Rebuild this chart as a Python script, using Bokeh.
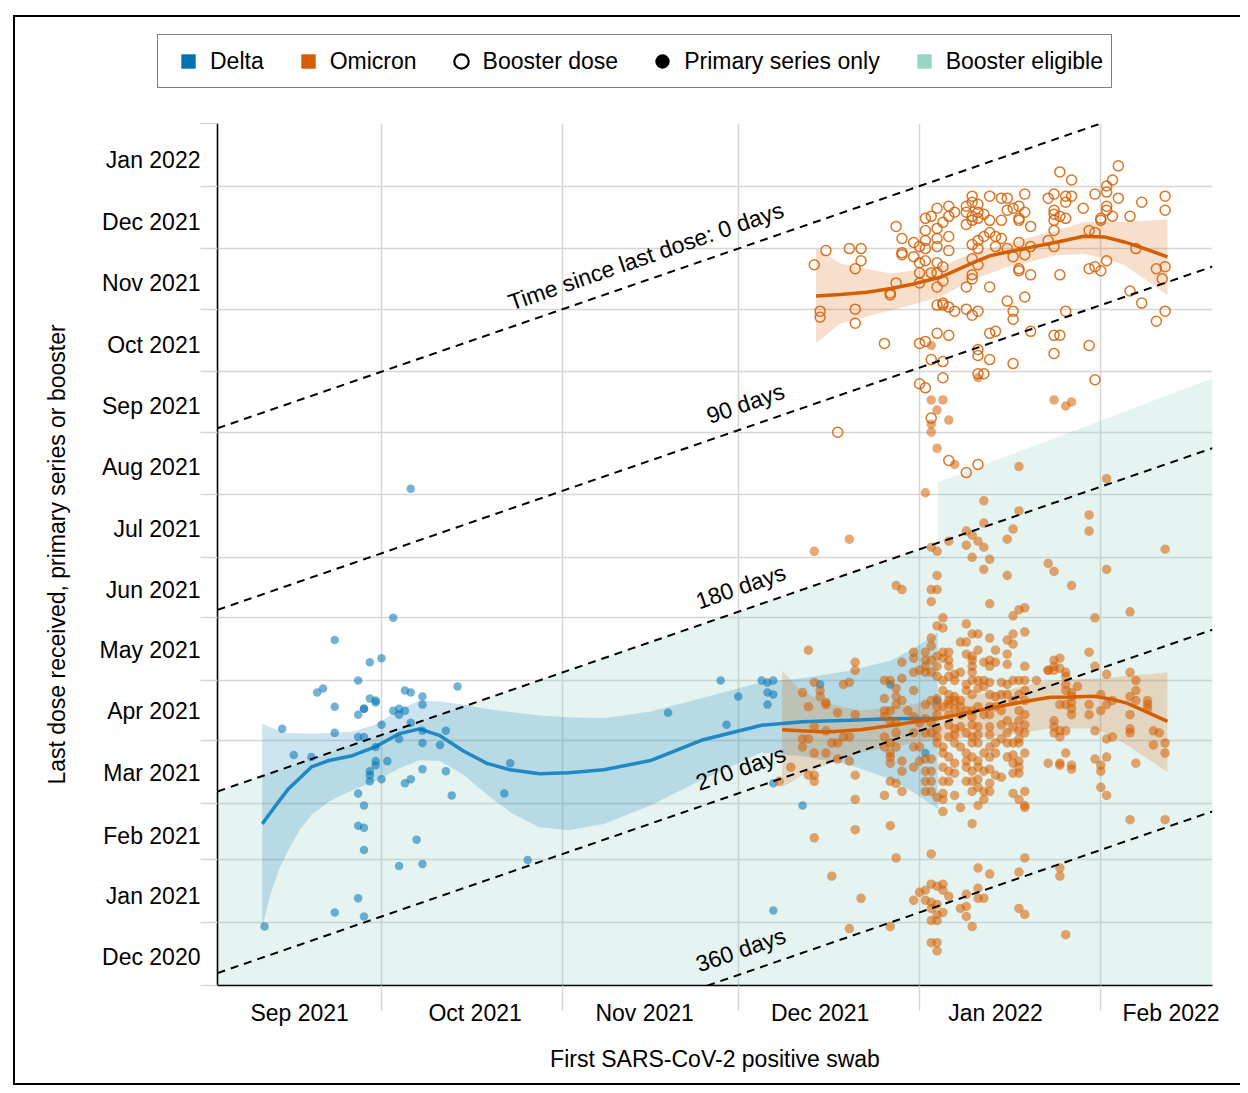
import numpy as np
from bokeh.plotting import figure
from bokeh.layouts import column
from bokeh.models import Range1d, FixedTicker, Legend, LegendItem
from bokeh.core.properties import value
from bokeh.embed import file_html
from bokeh.resources import INLINE

FONT = "Liberation Sans"
FS = "23px"
DELTA = "#0072B2"
OMI = "#D55E00"
ELIG = "#97D5C4"
GRID = "#d6d6d6"

# x = days since 2021-09-01 (first positive swab); y = days since 2021-01-01 (last dose)
SEP1 = 243
X_START, X_END = 1.95, 172.1
Y_START, Y_END = -31.2, 396

x_month_starts = [0, 30, 61, 91, 122, 153]
x_label_days = [16, 46, 75, 105, 135, 165]
x_labels = ["Sep 2021", "Oct 2021", "Nov 2021", "Dec 2021", "Jan 2022", "Feb 2022"]

y_month_starts = [-31, 0, 31, 59, 90, 120, 151, 181, 212, 243, 273, 304, 334, 365, 396]
y_label_days = [-17, 13, 43, 74, 105, 135, 165, 195, 226, 256, 286, 317, 347, 378]
y_labels = ["Dec 2020", "Jan 2021", "Feb 2021", "Mar 2021", "Apr 2021", "May 2021", "Jun 2021",
            "Jul 2021", "Aug 2021", "Sep 2021", "Oct 2021", "Nov 2021", "Dec 2021", "Jan 2022"]

# time-since-dose reference lines
ref_gap = [0, 90, 180, 270, 360]
ref_text = ["Time since last dose: 0 days", "90 days", "180 days", "270 days", "360 days"]
ref_label_x = [76.5, 93.5, 92.7, 92.7, 92.7]

# booster eligibility threshold (days since last dose) by swab date
elig_swab = [1.95, 125.2, 125.2, 172.1]
elig_gap = [180, 180, 150, 145.4]

legend_labels = ["Delta", "Omicron", "Booster dose", "Primary series only", "Booster eligible"]

# Delta, primary series (swab day, dose day)
delta_pts = [(35,215),(32,151),(22,140),(28,129),(30,131),(26,120),(19,114),(20,116),(22,107),(28,111),
    (29,109),(29,110),(27,106),(27,106),(26,103),(34,115),(35,114),(37,112),(37,108),(32,105),(33,106),
    (33,103),(34,105),(43,117),(13,96),(22,94),(26,92),(27,92),(30,98),(35,99),(33,91),(37,95),(41,95),
    (37,89),(40,88),(15,83),(18,82),(29,87),(29,80),(29,78),(31,80),(28,75),(28,73),(28,70),(30,71),
    (34,69),(35,71),(37,76),(41,75),(42,63),(52,79),(51,64),(26,64),(27,58),(26,48),(27,47),(27,36),
    (36,41),(33,28),(37,29),(55,31),(26,12),(22,5),(27,3),(10,-2),(79,104),(88,120),(89,98),(91,112),
    (95,120),(96,119),(97,120),(96,114),(97,113),(96,108),(105,118),(97,69),(102,58),(97,6),(123,84),
    (117,118),(125,110)]

# Omicron, booster dose
boost_pts = [(146,372),(156,375),(148,368),(155,368),(154,365),(154,362),(164,360),(156,359),(152,361),
    (160,357),(164,353),(154,355),(154,353),(150,354),(158,350),(155,350),(153,348),(153,349),(131,360),
    (134,360),(136,359),(137,359),(140,361),(144,359),(145,361),(147,360),(148,360),(147,357),(127,355),
    (125,354),(130,355),(132,356),(131,357),(130,352),(132,352),(128,352),(131,350),(133,351),(139,355),
    (138,354),(137,353),(140,352),(145,353),(145,351),(146,350),(147,349),(145,348),(145,343),(141,345),
    (139,349),(139,348),(136,348),(134,348),(132,349),(130,346),(131,348),(127,350),(126,347),(124,350),
    (123,349),(125,344),(123,343),(118,345),(119,339),(121,337),(123,338),(125,339),(127,340),(127,333),
    (125,335),(123,334),(122,335),(119,332),(119,331),(121,330),(123,328),(122,327),(125,327),(126,325),
    (124,322),(122,322),(125,322),(126,318),(125,315),(122,317),(118,317),(117,312),(117,311),(131,329),
    (132,334),(131,336),(132,338),(133,340),(134,342),(135,340),(136,339),(135,335),(137,334),(139,337),
    (140,331),(141,335),(138,330),(139,324),(139,323),(141,321),(146,321),(144,338),(145,335),(151,343),
    (152,342),(151,324),(152,325),(153,323),(154,328),(159,334),(162.5,324),(164,325),(163.5,319),
    (158,313),(160,307),(162.5,298),(164,303),(106,333),(110,334),(112,334),(112,328),(111,324),(104,326),
    (105,303),(105,300),(111,304),(111,297),(116,287),(130,315),(131,321),(131,319),(132,326),(134,315),
    (137,308),(138,303),(138,299),(140,310),(147,303),(130,304),(131,301),(132,303),(128,303),(127,305),
    (126,306),(125,306),(126,307),(125,292),(127,291),(134,292),(135,293),(141,293),(145,291),(146,291),
    (145,282),(151,286),(132,284),(132,281),(134,279),(138,277),(132,272),(133,272),(126,270),(126,278),
    (124,279),(122,287),(123,288),(122,267),(123,265),(152,269),(124,250),(127,229),(130,223),(132,227),
    (108,243)]

# Omicron, primary series only
prim_pts = [(124,286),(124,259),(126,259),(125,254),(127,249),(124,247),(124,243),(125,235),(128,227),
    (132,270),(139,226),(145,259),(147,256),(148,258),
    (123,213),(110,190),(104,184),(133,209),(139,204),(133,198),(130,194),(131,192),(127,189),(124,186),
    (125,184),(130,187),(132,189),(133,186),(131,181),(134,180),(133,175),(137,190),(138,195),(151,202),
    (151,194),(154,220),(164,185),(154,175),(144,178),(145,174),(148,167),(137,172),(118,167),(119,165),
    (124,165),(125,165),(125,172),(152,151),(158,154),(103,135),(111,129),(111,125),(151,134),(152,127),
    (154,123),(158,124),
    (124,159),(134,158),(140,156),(139,155),(138,152),(126,151),(125,147),(126,146),(130,148),(131,143),
    (132,143),(138,143),(140,144),(134,141),(129,139),(130,139),(137,140),(138,138),(137,133),(135,135),
    (132,135),(131,132),(130,133),(134,130),(133,129),(135,129),(131,130),(131,127),(134,127),(140,127),
    (137,128),(144,125),(126,134),(127,134),(126,131),(127,130),(125,132),(124,141),(124,137),(123,134),
    (121,134),(121,131),(119,129),(123,130),(124,130),(123,127),(122,125),(121,124),(123,124),(124,124),
    (125,127),(125,122),(127,127),(128,123),(129,124),(131,124),(127,122),(126,120),(128,120),(131,120),
    (132,120),(133,120),(130,118),(133,117),(134,119),(136,119),(137,118),(138,120),(139,120),(140,120),
    (142,120),(132,116),(130,115),(131,113),(128,112),(127,113),(126,115),(127,110),(128,110),(129,110),
    (134,113),(135,112),(136,113),(137,113),(138,110),(140,110),(139,113),(140,115),(116,120),(117,120),
    (119,121),(118,116),(121,115),(119,110),(118,112),(116,111),(118,108),(117,105),(116,105),(120,105),
    (123,108),(124,110),(125,111),(125,107),(126,107),(127,108),(128,106),(129,107),(130,105),(131,105),
    (132,107),(134,107),(135,107),(125,103),(127,103),(129,103),(131,102),(133,103),(134,103),(136,105),
    (139,105),(137,100),(139,100),(140,103),(116,102),(117,100),(118,99),(121,102),(122,99),(123,101),
    (124,99),(125,96),(127,98),(128,96),(129,97),(131,98),(132,97),(134,97),(136,98),(138,97),(140,98),
    (137,94),(139,95),(140,94),(118,94),(121,94),(123,94),(124,94),(125,92),(127,92),(128,93),(130,94),
    (131,92),(132,93),(134,93),(136,91),(139,91),(139,89),(137,89),(117,89),(118,87),(121,87),(122,87),
    (125,89),(126,87),(128,89),(129,87),(131,89),(132,89),(134,87),(135,89),(138,89),(117,84),(117,82),
    (117,79),(119,80),(122,80),(123,81),(124,81),(126,84),(127,82),(128,79),(130,84),(130,80),(131,82),
    (132,80),(133,84),(134,82),(135,84),(137,82),(138,83),(139,80),(140,84),(138,79),(119,75),(121,77),
    (123,75),(124,75),(126,77),(127,75),(128,74),(130,77),(131,75),(132,77),(133,75),(134,76),(139,77),
    (139,74),(144,79),(117,70),(118,69),(123,70),(124,70),(126,70),(127,70),(130,70),(131,70),(132,71),
    (134,69),(135,73),(136,72),(138,74),(116,63),(119,65),(123,65),(124,65),(126,64),(128,63),(131,65),
    (132,67),(133,65),(134,65),(138,64),(140,65),(139,61),(126,61),
    (104,119),(102,114),(105,112),(106,109),(110,119),(109,118),(103,107),(108,104),(111,103),(104,97),
    (106,95),(102,91),(103,91),(102,87),(104,84),(106,84),(107,89),(108,89),(109,92),(110,92),(108,81),
    (110,80),(103,73),(104,73),(100,77),(98,70),(111,73),(111,61),(106,108),(105,115),
    (126,55),(129,57),(131,49),(132,58),(133,61),(140,58),(140,57),(125,62),(111,46),(117,48),(104,42),
    (118,32),(107,23),(112,12),(110,-3),(117,-2),(124,34),(122,15),(123,16),(124,19),(125,18),(126,19),
    (126,16),(127,13),(121,11),(123,11),(124,10),(125,9),(124,7),(125,4),(126,5),(124,1),(125,1),(129,7),
    (130,8),(130,3),(131,-2),(132,27),(132,17),(133,12),(132,12),(130,14),(134,24),(139,25),(140,32),
    (139,7),(140,4),(146,27),(146,23),(147,-6),(124,-10),(125,-10),(125,-14),(158,51),(164,51),(116,92),
    (116,87),(104,70),
    (147,124),(147,122),(147,118),(147,115),(149,117),(148,114),(146,126),(159,120),(159,115),(158,112),
    (159,110),(148,112),(148,109),(148,106),(148,103),(147,108),(146,108),(151,108),(151,103),(153,113),
    (153,105),(154,108),(155,110),(158,103),(158,96),(158,94),(161,110),(161,108),(161,106),(145,100),
    (145,97),(145,94),(146,95),(147,95),(146,92),(152,95),(154,91),(155,92),(162,95),(163,94),(162,88),
    (164,89),(164,84),(147,84),(146,79),(146,78),(148,78),(148,76),(152,81),(153,78),(153,75),(154,82),
    (159,79),(153,67),(154,63),(145,130),(146,131),(145,127),(145,125),(144,125)]

# smoothed fits with confidence bands
delta_fit_x = [9.6, 11, 12.5, 14, 16, 18, 21, 25, 29, 33, 36.5, 40, 44, 48, 52, 57, 62, 68, 76, 85,
               95, 102, 110, 117, 121, 125.1]
delta_fit = [48.9, 54.4, 60.3, 66, 71.5, 77.1, 80.3, 82.7, 87.2, 93.6, 96, 92.6, 85, 78.9, 75.7, 73.7,
             74.2, 75.7, 80.3, 90.6, 97.8, 99.5, 100.2, 101, 101.1, 101.1]
delta_lo = [-2.3, 14, 26.5, 35.6, 46, 53.3, 60, 65.6, 70.1, 76.3, 80.4, 80, 73.3, 63.4, 54.7, 47.2,
            45.7, 48.8, 58, 71, 84.3, 82.4, 78.2, 71, 64.4, 56.5]
delta_hi = [98.5, 96.8, 95, 93.9, 93.8, 93.6, 93.9, 94.5, 98.2, 105.5, 110, 109.5, 108, 105.8, 104.3,
            102.6, 101.8, 101.2, 104.6, 111.4, 119.1, 121.1, 124.8, 129.8, 135.8, 143.8]

boost_fit_x = [104.3, 108.5, 113, 117.1, 121, 125.6, 130.8, 134, 137, 141, 145.6, 150.1, 153.6, 157,
               160.5, 164.4]
boost_fit = [310.5, 311.2, 312.4, 314.2, 316.5, 319.8, 326.6, 330.4, 332.3, 334.6, 337.3, 340.1, 339.8,
             337.3, 334, 329.9]
boost_hi = [334, 326.6, 324, 321.6, 323.1, 324.9, 331.5, 334.1, 336.5, 339.6, 343.1, 347.2, 347.2,
            347.2, 347.8, 348.4]
boost_lo = [287.2, 296.9, 300.3, 303.4, 306.4, 310, 318.3, 321.7, 324.9, 327.6, 330.7, 331.3, 329.2,
            325.7, 318.9, 310.9]

prim_fit_x = [98.5, 101.7, 106.2, 111.9, 117.1, 121, 125.1, 130.8, 136.4, 141, 144.4, 148, 151.9, 155,
              157.6, 161, 164.4]
prim_fit = [95.5, 95.0, 94.4, 95.6, 97.6, 99.4, 101, 104.4, 107.6, 110, 111.7, 111.8, 112.1, 110.6,
            108.6, 104.2, 99.7]
prim_hi = [124.9, 115, 108.6, 105.1, 106.6, 108.3, 110.1, 112.6, 115, 117.9, 120, 120.4, 120.9, 121.6,
           122.4, 123.1, 124]
prim_lo = [67.1, 72.5, 78.3, 84.3, 87, 89, 90.5, 91.6, 92.7, 94.7, 96.2, 96.2, 96.2, 92.1, 87.8, 81.2,
           74.6]


def unzip(pts):
    return [a for a, _ in pts], [b for _, b in pts]


W = 1225
TOP = 106

# ---------- main plot ----------
p = figure(width=W, height=960, x_range=Range1d(X_START, X_END), y_range=Range1d(Y_START, Y_END),
           output_backend="svg", toolbar_location=None,
           min_border_left=202, min_border_right=28, min_border_top=0, min_border_bottom=98)
p.frame_align = False
p.background_fill_color = "white"
p.border_fill_color = "white"
p.outline_line_color = None

p.xgrid.ticker = FixedTicker(ticks=x_month_starts)
p.ygrid.ticker = FixedTicker(ticks=y_month_starts)
for g in (p.xgrid, p.ygrid):
    g.grid_line_color = GRID
    g.grid_line_width = 1.5

p.xaxis.ticker = FixedTicker(ticks=x_label_days, minor_ticks=x_month_starts)
p.xaxis.major_label_overrides = {d: t for d, t in zip(x_label_days, x_labels)}
p.yaxis.ticker = FixedTicker(ticks=y_label_days, minor_ticks=y_month_starts)
p.yaxis.major_label_overrides = {d: t for d, t in zip(y_label_days, y_labels)}
for ax in (p.xaxis, p.yaxis):
    ax.axis_line_color = "black"
    ax.axis_line_width = 1.6
    ax.major_tick_line_color = None
    ax.major_tick_in = 0
    ax.major_tick_out = 0
    ax.minor_tick_line_color = GRID
    ax.minor_tick_line_width = 1.5
    ax.minor_tick_in = 0
    ax.major_label_text_font = FONT
    ax.major_label_text_font_size = FS
    ax.major_label_text_color = "black"
    ax.axis_label_text_font = FONT
    ax.axis_label_text_font_size = FS
    ax.axis_label_text_font_style = "normal"
    ax.axis_label_text_color = "black"
p.xaxis.minor_tick_out = 25
p.yaxis.minor_tick_out = 17
p.xaxis.major_label_standoff = -11
p.yaxis.major_label_standoff = 0
p.xaxis.axis_label = "First SARS-CoV-2 positive swab"
p.yaxis.axis_label = "Last dose received, primary series or booster"
p.xaxis.axis_label_standoff = 17
p.yaxis.axis_label_standoff = 26

ex = list(elig_swab) + [X_END, X_START]
ey = [s + SEP1 - g for s, g in zip(elig_swab, elig_gap)] + [Y_START, Y_START]
p.patch(ex, ey, fill_color=ELIG, fill_alpha=0.25, line_color=None)

p.varea(x=delta_fit_x, y1=delta_lo, y2=delta_hi, fill_color=DELTA, fill_alpha=0.2)
p.varea(x=boost_fit_x, y1=boost_lo, y2=boost_hi, fill_color=OMI, fill_alpha=0.2)
p.varea(x=prim_fit_x, y1=prim_lo, y2=prim_hi, fill_color=OMI, fill_alpha=0.2)

p.line(delta_fit_x, delta_fit, line_color="#2088C4", line_width=3.5)

dx, dy = unzip(delta_pts)
p.scatter(dx, dy, marker="circle", size=8.5, fill_color=DELTA, fill_alpha=0.55, line_color=None)
px_, py_ = unzip(prim_pts)
p.scatter(px_, py_, marker="circle", size=9.5, fill_color=OMI, fill_alpha=0.55, line_color=None)
bx, by = unzip(boost_pts)
p.scatter(bx, by, marker="circle", size=10, fill_color=None, line_color=OMI, line_alpha=0.85,
          line_width=1.5)

p.line(boost_fit_x, boost_fit, line_color=OMI, line_width=3.5)
p.line(prim_fit_x, prim_fit, line_color=OMI, line_width=3.5)

for gap in ref_gap:
    xs = [X_START, X_END]
    p.line(xs, [x + SEP1 - gap for x in xs], line_color="black", line_width=2, line_dash="8 6")
ang = float(np.arctan((862 / (Y_END - Y_START)) / (995 / (X_END - X_START))))
d = 10.0
p.text(x=ref_label_x, y=[x + SEP1 - g for x, g in zip(ref_label_x, ref_gap)], text=ref_text,
       angle=ang, text_align="center", text_baseline="bottom",
       x_offset=float(-np.sin(ang) * d), y_offset=float(-np.cos(ang) * d),
       text_font=value(FONT), text_font_size=value(FS), text_color="black")

# ---------- legend strip ----------
lg = figure(width=W, height=TOP, x_range=Range1d(0, 1), y_range=Range1d(0, 1),
            output_backend="svg", toolbar_location=None,
            min_border_left=0, min_border_right=0, min_border_top=0, min_border_bottom=0)
lg.frame_align = False
lg.axis.visible = False
lg.grid.visible = False
lg.outline_line_color = None
lg.background_fill_color = "white"
lg.border_fill_color = "white"
nan = [np.nan]
r1 = lg.scatter(nan, nan, marker="square", fill_color=DELTA, line_color=None)
r2 = lg.scatter(nan, nan, marker="square", fill_color=OMI, line_color=None)
r3 = lg.scatter(nan, nan, marker="circle", fill_color=None, line_color="black", line_width=2.2)
r4 = lg.scatter(nan, nan, marker="circle", fill_color="black", line_color=None)
r5 = lg.scatter(nan, nan, marker="square", fill_color=ELIG, line_color=None)
legend = Legend(items=[LegendItem(label=t, renderers=[r]) for t, r in
                       zip(legend_labels, [r1, r2, r3, r4, r5])],
                orientation="horizontal", location=(142, 35), margin=0, padding=8,
                glyph_width=44, glyph_height=36, label_standoff=0, spacing=22,
                border_line_color="black", border_line_width=1,
                background_fill_color="white", background_fill_alpha=1,
                label_text_font=FONT, label_text_font_size=FS, label_text_color="black")
lg.add_layout(legend)

layout = column(lg, p, spacing=0)
layout.margin = (15, 0, 0, 13)
layout.styles = {"border-left": "2px solid black", "border-top": "2px solid black",
                 "border-bottom": "2px solid black", "border-right": "0px none"}

open("out.html", "w").write(file_html(layout, INLINE))
